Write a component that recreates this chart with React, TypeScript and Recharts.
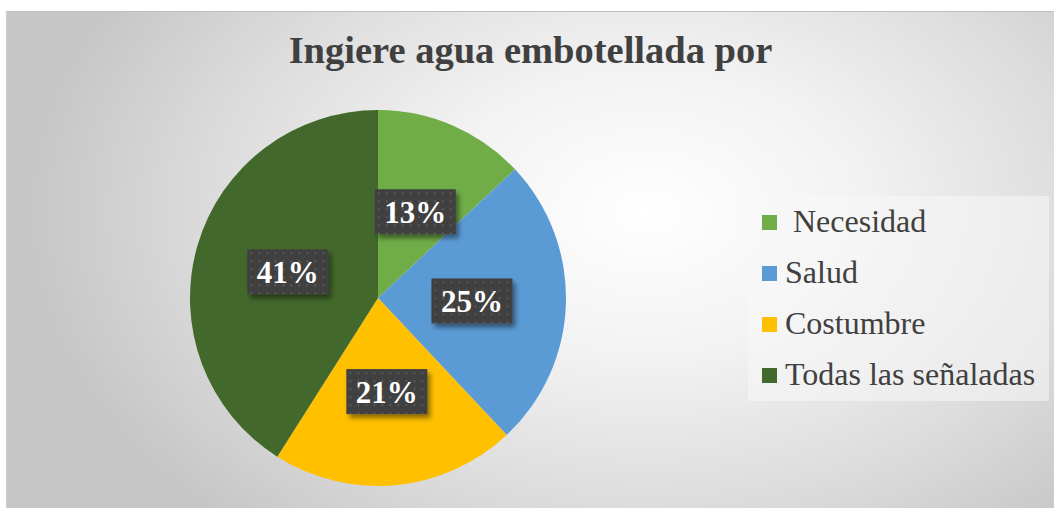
import React from 'react';
import { PieChart, Pie, Cell, Legend } from 'recharts';

const categories = ['Necesidad', 'Salud', 'Costumbre', 'Todas las señaladas'];
const legendLabels = [' Necesidad', 'Salud', 'Costumbre', 'Todas las señaladas'];
const values = [13, 25, 21, 41];
const colors = ['#70AD47', '#5B9BD5', '#FFC000', '#43682B'];

const data = categories.map((name, i) => ({ name, value: values[i] }));

const FONT = '"Liberation Serif", "Times New Roman", serif';

const RADIAN = Math.PI / 180;

const renderLabel = (props: any) => {
  const { cx, cy, midAngle, outerRadius, index, value } = props;
  const r = outerRadius * 0.5;
  const x = cx + r * Math.cos(-midAngle * RADIAN);
  const y = cy + r * Math.sin(-midAngle * RADIAN);
  const w = 81;
  const h = 45;
  const pid = `dots-${index}`;
  const fid = `shadow-${index}`;
  return (
    <g>
      <defs>
        <pattern id={pid} x={x - w / 2} y={y - h / 2} width={8} height={8} patternUnits="userSpaceOnUse">
          <rect width={8} height={8} fill="#404040" />
          <rect x={3} y={3} width={2} height={2} fill="#585858" />
        </pattern>
        <filter id={fid} x="-20%" y="-20%" width="150%" height="160%">
          <feGaussianBlur in="SourceAlpha" stdDeviation="2.5" />
          <feOffset dx="3" dy="4" result="b" />
          <feComponentTransfer>
            <feFuncA type="linear" slope="0.45" />
          </feComponentTransfer>
          <feMerge>
            <feMergeNode />
            <feMergeNode in="SourceGraphic" />
          </feMerge>
        </filter>
      </defs>
      <rect x={x - w / 2} y={y - h / 2} width={w} height={h} fill={`url(#${pid})`} filter={`url(#${fid})`} />
      <text
        x={x}
        y={y + 11}
        textAnchor="middle"
        fill="#ffffff"
        fontFamily={FONT}
        fontWeight="bold"
        fontSize={31}
      >
        {`${value}%`}
      </text>
    </g>
  );
};

const renderLegend = () => (
  <div
    style={{
      width: 301,
      height: 205,
      background: 'rgba(248,248,248,0.55)',
      boxSizing: 'border-box',
      paddingTop: 0,
    }}
  >
    {legendLabels.map((label, i) => (
      <div
        key={label}
        style={{
          display: 'flex',
          alignItems: 'center',
          height: 51,
          fontFamily: FONT,
          fontSize: 32,
          color: '#404040',
          whiteSpace: 'pre',
        }}
      >
        <span
          style={{
            display: 'inline-block',
            width: 15,
            height: 15,
            background: colors[i],
            marginLeft: 14,
            marginRight: 8,
            marginTop: 2,
          }}
        />
        <span>{label}</span>
      </div>
    ))}
  </div>
);

export default function App() {
  return (
    <div style={{ position: 'relative', width: 1055, height: 508 }}>
      <style>{'body{margin:0}'}</style>
      <div
        style={{
          position: 'absolute',
          left: 6,
          top: 11,
          width: 1048,
          height: 497,
          boxSizing: 'border-box',
          borderTop: '1px solid #bdbdbd',
          borderLeft: '1px solid #cfcfcf',
          background:
            'radial-gradient(ellipse 620px 420px at 640px 200px, #ffffff 0%, #f2f2f2 35%, #dcdcdc 70%, #c6c6c6 100%)',
        }}
      >
        <div
          style={{
            position: 'absolute',
            left: 0,
            width: '100%',
            top: 16,
            textAlign: 'center',
            fontFamily: FONT,
            fontWeight: 'bold',
            fontSize: 38.5,
            color: '#404040',
            lineHeight: '44px',
          }}
        >
          Ingiere agua embotellada por
        </div>
        <PieChart
          width={1048}
          height={497}
          margin={{ top: 0, right: 0, bottom: 0, left: 0 }}
          style={{ position: 'absolute', left: 0, top: 0 }}
        >
          <Pie
            data={data}
            dataKey="value"
            nameKey="name"
            cx={371}
            cy={286}
            outerRadius={188}
            startAngle={90}
            endAngle={-270}
            stroke="none"
            isAnimationActive={false}
            labelLine={false}
            label={renderLabel}
          >
            {data.map((d, i) => (
              <Cell key={d.name} fill={colors[i]} />
            ))}
          </Pie>
          <Legend
            content={renderLegend}
            wrapperStyle={{ position: 'absolute', left: 741, top: 184, width: 301 }}
          />
        </PieChart>
      </div>
    </div>
  );
}
